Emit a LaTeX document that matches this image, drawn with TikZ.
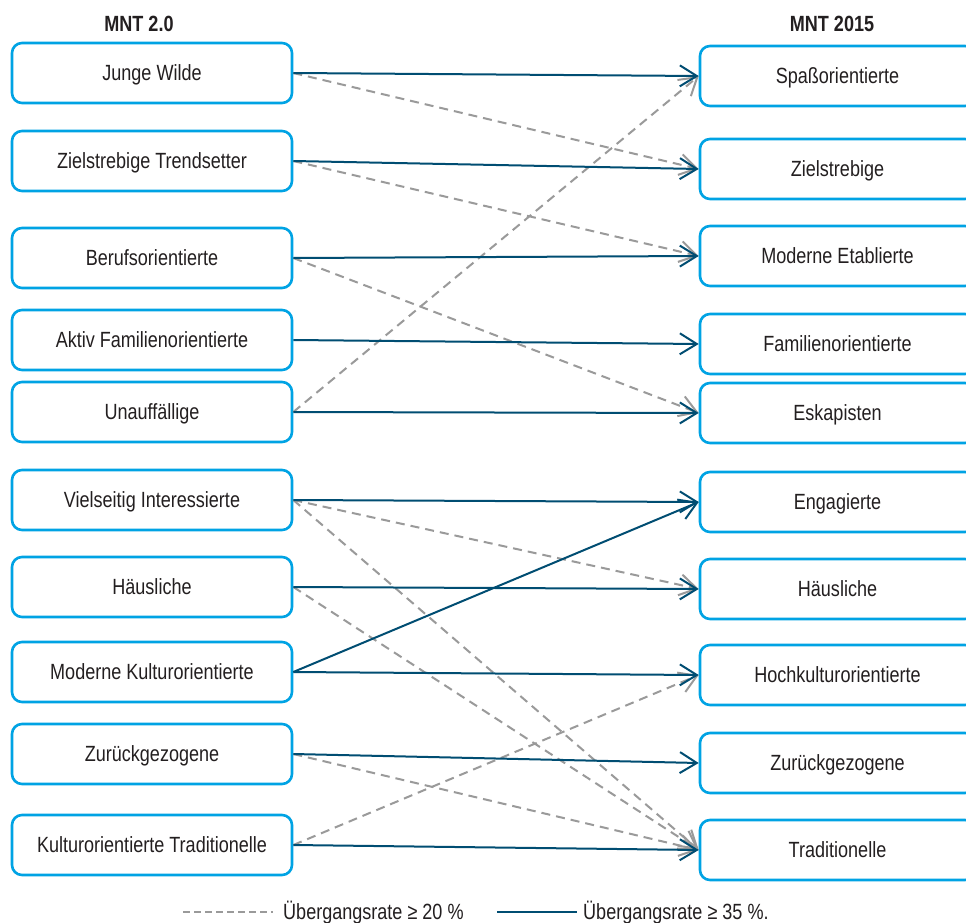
\documentclass[tikz,border=0pt]{standalone}
\usepackage{fontspec}
\setmainfont{Liberation Sans}[FakeStretch=0.82]
\usetikzlibrary{arrows.meta}
\definecolor{boxblue}{HTML}{00A3E4}
\definecolor{darkline}{HTML}{004D72}
\definecolor{grayline}{HTML}{9A9A9A}
\definecolor{txt}{HTML}{231F20}
\tikzset{
  seg/.style={draw=boxblue, line width=2.6pt, rounded corners=10pt, minimum height=60pt, text=txt, font=\fontsize{22}{24}\selectfont, inner sep=0pt, text height=15.7pt, text depth=0pt},
  lbox/.style={seg, minimum width=280pt},
  rbox/.style={seg, minimum width=275pt},
  hdr/.style={text=txt, font=\fontsize{22}{24}\selectfont\bfseries, inner sep=0pt, text height=15.7pt, text depth=0pt},
  strong/.style={draw=darkline, line width=2pt, -{Straight Barb[length=17pt,width=21pt]}},
  weak/.style={draw=grayline, line width=2pt, dash pattern=on 9pt off 6pt, -{Straight Barb[length=17pt,width=21pt]}},
  legtxt/.style={text=txt, font=\fontsize{22}{24}\selectfont, anchor=west, inner sep=0pt, text height=15.7pt, text depth=0pt}
}
\begin{document}
\begin{tikzpicture}[x=1pt, y=-1pt]
\clip (0,0) rectangle (966,923);
\fill[white] (0,0) rectangle (966,923);
\node[hdr] (h1) at (139,24) {MNT 2.0};
\node[hdr] (h2) at (832,24) {MNT 2015};
% left boxes
\node[lbox] (L1) at (152,73) {Junge Wilde};
\node[lbox] (L2) at (152,161) {Zielstrebige Trendsetter};
\node[lbox] (L3) at (152,258) {Berufsorientierte};
\node[lbox] (L4) at (152,340) {Aktiv Familienorientierte};
\node[lbox] (L5) at (152,412) {Unauffällige};
\node[lbox] (L6) at (152,500) {Vielseitig Interessierte};
\node[lbox] (L7) at (152,587) {Häusliche};
\node[lbox] (L8) at (152,672) {Moderne Kulturorientierte};
\node[lbox] (L9) at (152,754) {Zurückgezogene};
\node[lbox] (L10) at (152,845) {Kulturorientierte Traditionelle};
% right boxes
\node[rbox] (R1) at (837.5,76) {Spaßorientierte};
\node[rbox] (R2) at (837.5,169) {Zielstrebige};
\node[rbox] (R3) at (837.5,256) {Moderne Etablierte};
\node[rbox] (R4) at (837.5,344) {Familienorientierte};
\node[rbox] (R5) at (837.5,413) {Eskapisten};
\node[rbox] (R6) at (837.5,502) {Engagierte};
\node[rbox] (R7) at (837.5,589) {Häusliche};
\node[rbox] (R8) at (837.5,675) {Hochkulturorientierte};
\node[rbox] (R9) at (837.5,763) {Zurückgezogene};
\node[rbox] (R10) at (837.5,850) {Traditionelle};
% dashed
\draw[weak] (L1.east) -- (R2.west);
\draw[weak] (L2.east) -- (R3.west);
\draw[weak] (L3.east) -- (R5.west);
\draw[weak] (L5.east) -- (R1.west);
\draw[weak] (L6.east) -- (R7.west);
\draw[weak] (L6.east) -- (R10.west);
\draw[weak] (L7.east) -- (R10.west);
\draw[weak] (L9.east) -- (R10.west);
\draw[weak] (L10.east) -- (R8.west);
% solid
\draw[strong] (L1.east) -- (R1.west);
\draw[strong] (L2.east) -- (R2.west);
\draw[strong] (L3.east) -- (R3.west);
\draw[strong] (L4.east) -- (R4.west);
\draw[strong] (L5.east) -- (R5.west);
\draw[strong] (L6.east) -- (R6.west);
\draw[strong] (L7.east) -- (R7.west);
\draw[strong] (L8.east) -- (R6.west);
\draw[strong] (L8.east) -- (R8.west);
\draw[strong] (L9.east) -- (R9.west);
\draw[strong] (L10.east) -- (R10.west);
% legend
\coordinate (la) at (183,912);
\coordinate (lb) at (273,912);
\coordinate (lc) at (497,912);
\coordinate (ld) at (577,912);
\draw[draw=grayline, line width=2pt, dash pattern=on 7pt off 4pt] (la) -- (lb);
\node[legtxt] (t1) at (283,912) {Übergangsrate ≥ 20 \%};
\draw[draw=darkline, line width=2.5pt] (lc) -- (ld);
\node[legtxt] (t2) at (583,912) {Übergangsrate ≥ 35 \%.};
\end{tikzpicture}
\end{document}
